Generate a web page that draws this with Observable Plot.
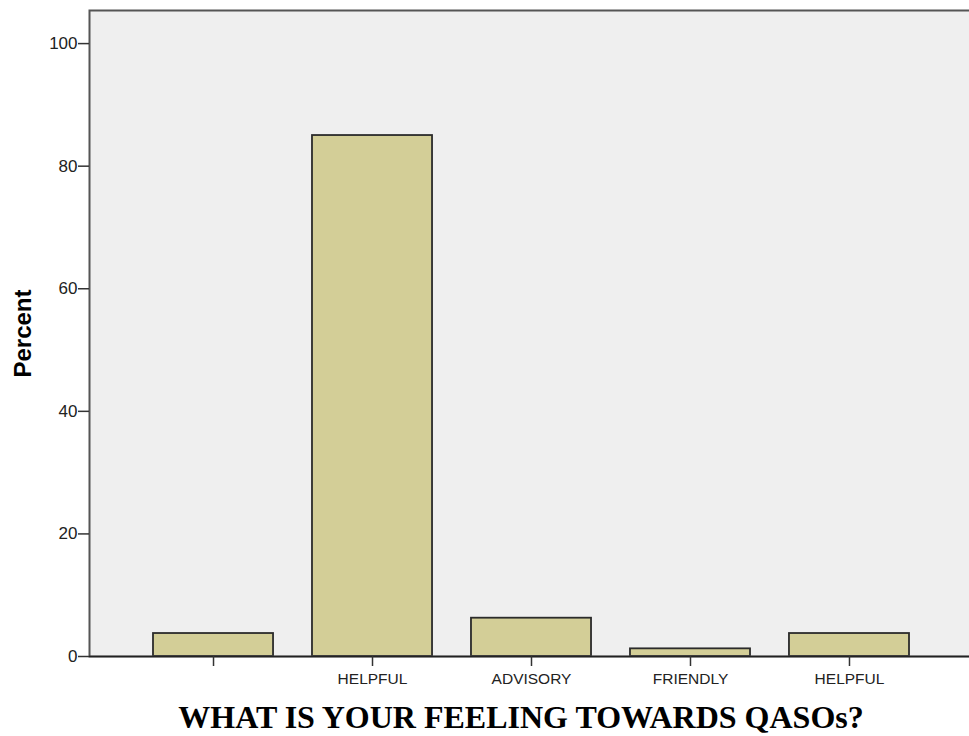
<!DOCTYPE html>
<html><head><meta charset="utf-8">
<script src="https://cdn.jsdelivr.net/npm/d3@7"></script>
<script src="https://cdn.jsdelivr.net/npm/@observablehq/plot@0.6"></script>
<style>
html,body{margin:0;padding:0;overflow:hidden;background:#fff;}
#wrap{position:relative;width:969px;height:736px;overflow:hidden;}
#chart svg{max-width:none !important;display:block;}
#title{position:absolute;left:0;top:702px;width:969px;padding-left:73px;box-sizing:border-box;text-align:center;font:bold 32px "Liberation Serif","Times New Roman",serif;line-height:30px;color:#000;white-space:nowrap;}
</style></head><body>
<div id="wrap"><div id="chart"></div><div id="title">WHAT IS YOUR FEELING TOWARDS QASOs?</div></div>
<script>
const categories = ["", "HELPFUL", "ADVISORY", "FRIENDLY", "HELPFUL"];
const percents = [3.75, 85, 6.25, 1.25, 3.75];
const yTicks = [0, 20, 40, 60, 80, 100];
const yLabel = "Percent";

const data = categories.map((c, i) => ({i, label: c, v: percents[i]}));

const chart = Plot.plot({
  width: 973, height: 690,
  marginLeft: 89, marginRight: 0, marginTop: 10, marginBottom: 34,
  style: {fontFamily: '"Liberation Sans", Arial, sans-serif', fontSize: "16px", color: "#222", background: "transparent", overflow: "hidden", maxWidth: "none"},
  x: {type: "band", domain: data.map(d => d.i), paddingInner: 0.245, paddingOuter: 0.4025, round: false},
  y: {domain: [0, 105.4]},
  marks: [
    Plot.frame({fill: "#efefef"}),
    Plot.barY(data, {x: "i", y: "v", fill: "#d3ce97", stroke: "#2b2b2b", strokeWidth: 1.8}),
    Plot.frame({stroke: "#555", strokeWidth: 2}),
    Plot.ruleY([0], {stroke: "#222", strokeWidth: 1.5}),
    Plot.axisY({ticks: yTicks, tickSize: 11, tickPadding: 1, label: yLabel, labelAnchor: "center", labelOffset: 76, stroke: "#333", strokeWidth: 1.5, fill: "#222", fontSize: 17}),
    Plot.axisX({tickSize: 10, tickPadding: 6, tickFormat: i => categories[i], label: null, stroke: "#333", strokeWidth: 1.5, fill: "#222", fontSize: 15.5})
  ]
});
d3.select(chart).selectAll('g[aria-label="y-axis label"] text')
  .text(yLabel)
  .style("font-size", "24px").style("font-weight", "bold").attr("fill", "#000");
document.getElementById("chart").appendChild(chart);
</script>
</body></html>
